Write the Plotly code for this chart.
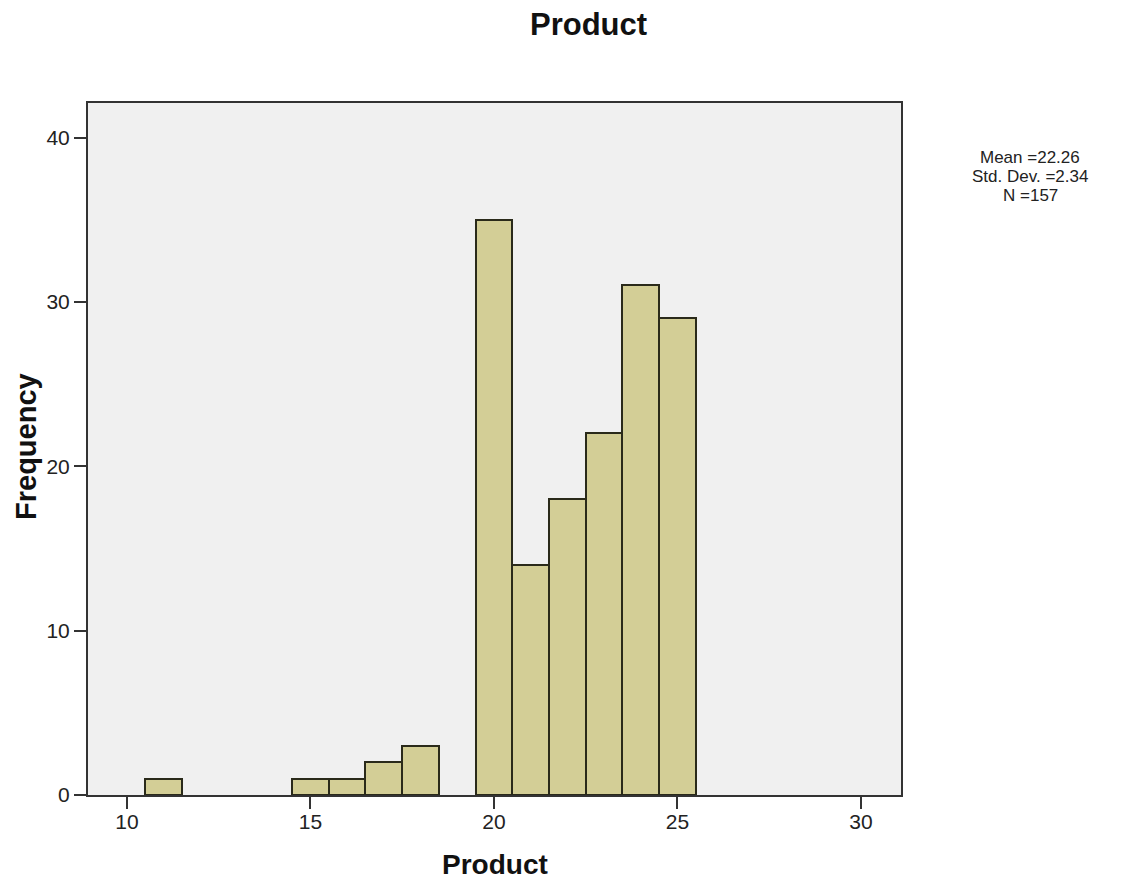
import plotly.graph_objects as go

bin_centers = [11, 15, 16, 17, 18, 20, 21, 22, 23, 24, 25]
frequencies = [1, 1, 1, 2, 3, 35, 14, 18, 22, 31, 29]
x_ticks = [10, 15, 20, 25, 30]
y_ticks = [0, 10, 20, 30, 40]
stats_text = ["Mean =22.26", "Std. Dev. =2.34", "N =157"]

# page coordinates of the plot area (browser adds an 8px body margin)
OFF = 8
L, R, T, B = 88, 901, 103, 795
W, H = 1120, 872

fig = go.Figure()
fig.add_trace(go.Bar(
    x=bin_centers, y=frequencies, width=1,
    marker=dict(color="#d3ce96", line=dict(color="#2a2a1a", width=2)),
    showlegend=False, hoverinfo="x+y",
))

font_family = "Liberation Sans, Arial, sans-serif"
axis_common = dict(ticks="outside", ticklen=12, tickwidth=2, tickcolor="#333",
                   showgrid=False, zeroline=False, showline=True, linecolor="#333",
                   linewidth=2, mirror=True, tickfont=dict(size=21, color="#222"))
fig.update_layout(
    width=W, height=H,
    margin=dict(l=L - OFF, r=W - (R - OFF), t=T - OFF, b=H - (B - OFF), pad=0),
    paper_bgcolor="white", plot_bgcolor="#f0f0f0",
    bargap=0,
    font=dict(family=font_family, size=16, color="#222"),
    xaxis=dict(range=[8.94, 31.09], tickvals=x_ticks, ticklabelstandoff=-5, **axis_common),
    yaxis=dict(range=[0, 42.1], tickvals=y_ticks, **axis_common),
)

def px_x(x):
    return (x - L) / (R - L)

def px_y(y):
    return (B - y) / (B - T)

fig.add_annotation(text="<b>Product</b>", xref="paper", yref="paper",
                   x=px_x(588), y=px_y(25), showarrow=False,
                   font=dict(size=31, color="#111"), xanchor="center", yanchor="middle")
fig.add_annotation(text="<b>Product</b>", xref="paper", yref="paper",
                   x=px_x(495), y=px_y(864), showarrow=False,
                   font=dict(size=28, color="#111"), xanchor="center", yanchor="middle")
fig.add_annotation(text="<b>Frequency</b>", xref="paper", yref="paper",
                   x=px_x(26), y=px_y(447), textangle=-90, showarrow=False,
                   font=dict(size=29, color="#111"), xanchor="center", yanchor="middle")
for line, ypix in zip(stats_text, [157, 176, 195]):
    fig.add_annotation(text=line, xref="paper", yref="paper",
                       x=px_x(1030), y=px_y(ypix), showarrow=False,
                       font=dict(size=17, color="#222"),
                       xanchor="center", yanchor="middle")

fig.write_html("out.html")
